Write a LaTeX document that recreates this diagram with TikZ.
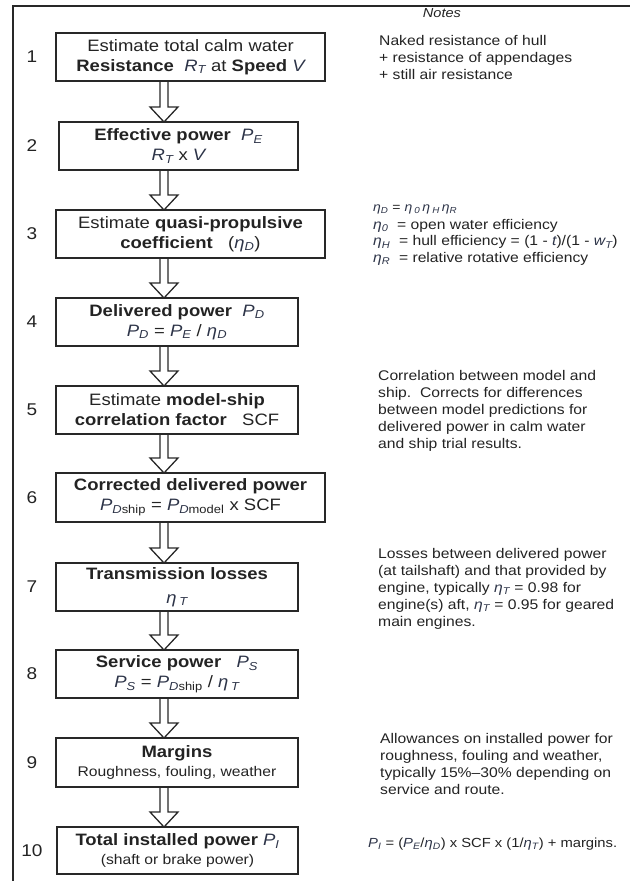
\documentclass[tikz,border=0pt]{standalone}
\usepackage{fontspec}
\setmainfont{Liberation Sans}[FakeStretch=1.12]
\usetikzlibrary{calc}
\definecolor{ink}{RGB}{35,35,35}
\definecolor{mathink}{RGB}{45,52,72}
\definecolor{lineink}{RGB}{40,40,40}
\newcommand{\mi}[1]{{\itshape\color{mathink}#1}}
\newcommand{\sbx}[1]{\textsubscript{#1}}
\newcommand{\blockarrow}[2]{%
  \draw[barrow] ($(#1.south -| ax)+(-4,0)$) -- ($(#2.north -| ax)+(-4,-15)$)
    -- ($(#2.north -| ax)+(-14,-15)$) -- (#2.north -| ax)
    -- ($(#2.north -| ax)+(14,-15)$) -- ($(#2.north -| ax)+(4,-15)$)
    -- ($(#1.south -| ax)+(4,0)$);}
\begin{document}
\begin{tikzpicture}[x=1pt,y=-1pt,
  stepbox/.style={draw=lineink, line width=1.5pt, inner sep=0pt, outer sep=0pt,
    align=center, text=ink, font=\fontsize{16.5}{20}\selectfont, minimum height=48pt},
  numlbl/.style={text=ink, font=\fontsize{17}{20}\selectfont, inner sep=0pt},
  note/.style={text=ink, font=\fontsize{14}{17}\selectfont, align=left, inner sep=0pt, anchor=north west},
  barrow/.style={draw=lineink, line width=1.3pt, line join=miter}]
\useasboundingbox (0,0) rectangle (630,881);
% frame
\draw[lineink, line width=1.8pt] (13,881) -- (13,6) -- (630,6);
\coordinate (ax) at (164,0);
\coordinate (nx) at (32,0);
% boxes
\node[stepbox, minimum width=269pt] (b1) at (190.5,57)
  {Estimate total calm water\\ \textbf{Resistance}\ \ \mi{R\sbx{T}} at \textbf{Speed} \mi{V}};
\node[stepbox, minimum width=239pt] (b2) at (178.5,146)
  {\textbf{Effective power}\ \ \mi{P\sbx{E}}\\ \mi{R\sbx{T}} x \mi{V}};
\node[stepbox, minimum width=269pt] (b3) at (190.5,234)
  {Estimate \textbf{quasi-propulsive}\\ \textbf{coefficient}\ \ \ (\mi{η\sbx{D}})};
\node[stepbox, minimum width=242pt] (b4) at (177,322)
  {\textbf{Delivered power}\ \ \mi{P\sbx{D}}\\ \mi{P\sbx{D}} = \mi{P\sbx{E}} / \mi{η\sbx{D}}};
\node[stepbox, minimum width=242pt] (b5) at (177,410)
  {Estimate \textbf{model-ship}\\ \textbf{correlation factor}\ \ \ SCF};
\node[stepbox, minimum width=269pt, minimum height=49pt] (b6) at (190.5,497.5)
  {\textbf{Corrected delivered power}\\ \mi{P}\sbx{\mi{D}ship} = \mi{P}\sbx{\mi{D}model} x SCF};
\node[stepbox, minimum width=242pt] (b7) at (177,587)
  {\textbf{Transmission losses}\\[4pt] \mi{η\,\sbx{T}}};
\node[stepbox, minimum width=242pt] (b8) at (177,674)
  {\textbf{Service power}\ \ \ \mi{P\sbx{S}}\\ \mi{P\sbx{S}} = \mi{P}\sbx{\mi{D}ship} / \mi{η\,\sbx{T}}};
\node[stepbox, minimum width=242pt, minimum height=49pt] (b9) at (177,762.5)
  {\textbf{Margins}\\[-1pt] {\fontsize{14}{17}\selectfont Roughness, fouling, weather}};
\node[stepbox, minimum width=241pt, minimum height=47pt] (b10) at (177.5,850.5)
  {\textbf{Total installed power} \mi{P\sbx{I}}\\[-1pt] {\fontsize{14}{17}\selectfont (shaft or brake power)}};
% arrows
\blockarrow{b1}{b2}
\blockarrow{b2}{b3}
\blockarrow{b3}{b4}
\blockarrow{b4}{b5}
\blockarrow{b5}{b6}
\blockarrow{b6}{b7}
\blockarrow{b7}{b8}
\blockarrow{b8}{b9}
\blockarrow{b9}{b10}
% step numbers
\node[numlbl] (k1) at (b1 -| nx) {1};
\node[numlbl] (k2) at (b2 -| nx) {2};
\node[numlbl] (k3) at (b3 -| nx) {3};
\node[numlbl] (k4) at (b4 -| nx) {4};
\node[numlbl] (k5) at (b5 -| nx) {5};
\node[numlbl] (k6) at (b6 -| nx) {6};
\node[numlbl] (k7) at (b7 -| nx) {7};
\node[numlbl] (k8) at (b8 -| nx) {8};
\node[numlbl] (k9) at (b9 -| nx) {9};
\node[numlbl] (k10) at (b10 -| nx) {10};
% notes
\node[text=ink, font=\fontsize{13}{15}\itshape, inner sep=0pt] (nh) at (442,13) {Notes};
\node[note] (n1) at (379,35)
  {Naked resistance of hull\\ + resistance of appendages\\ + still air resistance};
\node[note, font=\fontsize{12.5}{15}\selectfont] (n3a) at (373,205)
  {\mi{η\sbx{D}} = \mi{η\,\sbx{0}}\,\mi{η\,\sbx{H}}\,\mi{η\sbx{R}}};
\node[note, font=\fontsize{14}{16.5}\selectfont] (n3b) at (373,219)
  {\mi{η\sbx{0}}\ \ = open water efficiency\\ \mi{η\sbx{H}}\ \ = hull efficiency = (1 - \mi{t})/(1 - \mi{w\sbx{T}})\\ \mi{η\sbx{R}}\ \ = relative rotative efficiency};
\node[note] (n5) at (378,370)
  {Correlation between model and\\ ship.\ \ Corrects for differences\\ between model predictions for\\ delivered power in calm water\\ and ship trial results.};
\node[note] (n7) at (378,548)
  {Losses between delivered power\\ (at tailshaft) and that provided by\\ engine, typically \mi{η\sbx{T}} = 0.98 for\\ engine(s) aft, \mi{η\sbx{T}} = 0.95 for geared\\ main engines.};
\node[note] (n9) at (380,733)
  {Allowances on installed power for\\ roughness, fouling and weather,\\ typically 15\%–30\% depending on\\ service and route.};
\node[note, font=\fontsize{13.2}{16}\selectfont] (n10) at (368,838)
  {\mi{P\sbx{I}} = (\mi{P\sbx{E}}/\mi{η\sbx{D}}) x SCF x (1/\mi{η\sbx{T}}) + margins.};
\end{tikzpicture}
\end{document}
